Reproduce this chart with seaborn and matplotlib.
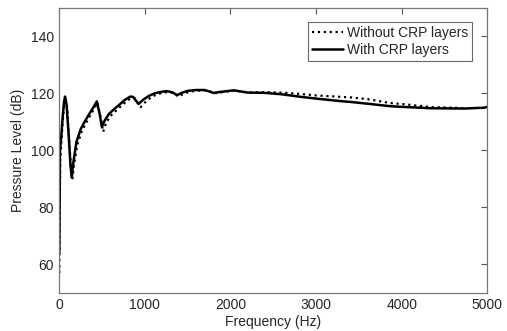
import numpy as np
import pandas as pd
import matplotlib
matplotlib.use("Agg")
import matplotlib.pyplot as plt
import seaborn as sns

# Frequency response (Hz, dB)
freq_with = [0, 8, 20, 40, 55, 67, 85, 110, 130, 145, 165, 200, 250, 300, 350,
             400, 438, 470, 497, 530, 580, 633, 700, 760, 829, 860, 900, 926,
             980, 1050, 1120, 1200, 1260, 1320, 1376, 1430, 1500, 1600, 1700,
             1800, 1900, 2040, 2200, 2400, 2600, 2822, 3000, 3290, 3408, 3600,
             3876, 4000, 4345, 4733, 4966, 5000]
level_with = [64, 100, 104, 112, 117, 118.9, 116, 105, 95, 90.5, 96, 103, 107.5,
              110.3, 112.8, 115.2, 117.2, 113, 108.3, 110.5, 112.8, 114.3, 116,
              117.6, 118.9, 118.8, 117.3, 116.3, 117.8, 119.2, 120.1, 120.6,
              120.8, 120.4, 119.4, 120.2, 120.9, 121.2, 121.2, 120.2, 120.6,
              121.1, 120.3, 120.2, 119.7, 118.8, 118.2, 117.3, 117.0, 116.4,
              115.5, 115.3, 114.8, 114.7, 115.0, 115.3]

freq_without = [0, 10, 22, 42, 58, 72, 90, 115, 135, 152, 172, 210, 260, 310,
                360, 410, 445, 480, 512, 545, 595, 650, 715, 780, 845, 880, 920,
                950, 1000, 1070, 1140, 1220, 1280, 1340, 1390, 1450, 1520, 1620,
                1720, 1820, 1920, 2050, 2200, 2450, 2650, 2822, 3000, 3290, 3408,
                3600, 3876, 4000, 4345, 4600, 4750]
level_without = [57, 97, 102, 111, 116.5, 118.4, 115.5, 104, 94, 89.5, 95, 102,
                 106.5, 109.5, 112.2, 114.8, 116.8, 112, 106.5, 109.5, 112,
                 113.6, 115.4, 117.1, 118.5, 118.4, 116.5, 115.2, 116.8, 118.6,
                 119.7, 120.3, 120.5, 120.1, 118.9, 119.8, 120.6, 121.0, 121.1,
                 120.1, 120.5, 121.0, 120.4, 120.4, 120.2, 119.8, 119.3, 118.8,
                 118.6, 118.0, 116.6, 116.3, 115.2, 115.0, 114.8]

sns.set_style("white")
plt.rcParams['font.family'] = ['Liberation Sans', 'DejaVu Sans']

fig = plt.figure(figsize=(5.07, 3.31), dpi=100)
ax = fig.add_axes([0.117, 0.115, 0.844, 0.861])

sns.lineplot(x=freq_without, y=level_without, ax=ax, color='black',
             linestyle=':', linewidth=1.6, label='Without CRP layers',
             estimator=None, sort=False)
sns.lineplot(x=freq_with, y=level_with, ax=ax, color='black',
             linestyle='-', linewidth=1.8, label='With CRP layers',
             estimator=None, sort=False)

ax.set_xlim(0, 5000)
ax.set_ylim(50, 150)
ax.set_xticks([0, 1000, 2000, 3000, 4000, 5000])
ax.set_yticks([60, 80, 100, 120, 140])
ax.set_xlabel('Frequency (Hz)', fontsize=10, labelpad=2)
ax.set_ylabel('Pressure Level (dB)', fontsize=10, labelpad=4)
ax.tick_params(direction='in', top=True, right=True, length=4, width=0.8,
               color='#555555', labelsize=10, pad=4)
for s in ax.spines.values():
    s.set_color('#777777')
    s.set_linewidth(0.9)

leg = ax.legend(loc='upper right', bbox_to_anchor=(0.965, 0.95), fontsize=10,
                frameon=True, fancybox=False, handlelength=2.2,
                handletextpad=0.3, borderpad=0.3, labelspacing=0.2,
                borderaxespad=0)
leg.get_frame().set_edgecolor('#444444')
leg.get_frame().set_linewidth(0.8)

fig.savefig('out.png', dpi=100)
